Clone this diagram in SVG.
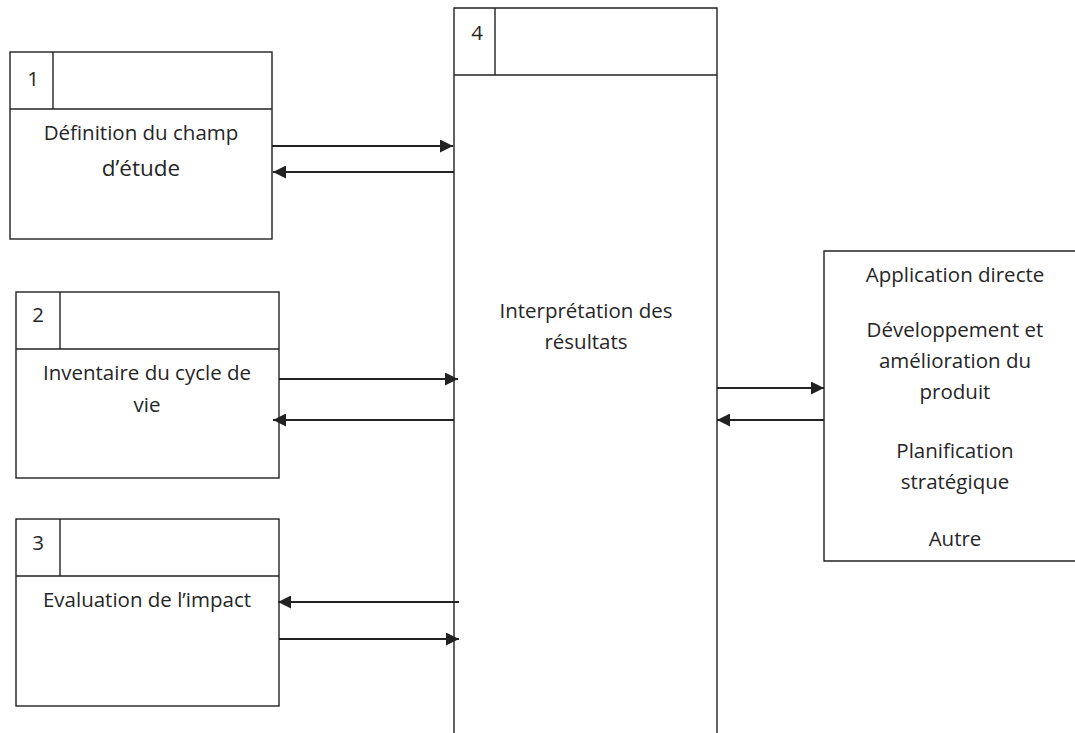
<svg xmlns="http://www.w3.org/2000/svg" width="1075" height="733" viewBox="0 0 1075 733">
<style>
  .box { fill: none; stroke: #222; stroke-width: 1.4; }
  .t { font-family: "Open Sans", "Liberation Sans", sans-serif; font-size: 20.5px; fill: #262626; text-anchor: middle; }
  .arr { stroke: #222; stroke-width: 2; fill: none; marker-end: url(#ah); }
</style>
<defs>
  <marker id="ah" markerUnits="userSpaceOnUse" markerWidth="13" markerHeight="13" refX="13" refY="6.5" orient="auto">
    <path d="M0,0 L13,6.5 L0,13 z" fill="#222"/>
  </marker>
</defs>
<rect width="1075" height="733" fill="#fff"/>

<g id="node1">
  <rect class="box" x="10" y="52" width="262" height="187"/>
  <line class="box" x1="10" y1="109" x2="272" y2="109"/>
  <line class="box" x1="53" y1="52" x2="53" y2="109"/>
  <text class="t" x="33" y="86">1</text>
  <text class="t" x="141" y="140">Définition du champ</text>
  <text class="t" x="141" y="176" style="font-size:22.5px">d’étude</text>
</g>

<g id="node2">
  <rect class="box" x="16" y="292" width="263" height="186"/>
  <line class="box" x1="16" y1="349" x2="279" y2="349"/>
  <line class="box" x1="60" y1="292" x2="60" y2="349"/>
  <text class="t" x="38" y="322">2</text>
  <text class="t" x="147" y="380">Inventaire du cycle de</text>
  <text class="t" x="147" y="412">vie</text>
</g>

<g id="node3">
  <rect class="box" x="16" y="519" width="263" height="187"/>
  <line class="box" x1="16" y1="576" x2="279" y2="576"/>
  <line class="box" x1="60" y1="519" x2="60" y2="576"/>
  <text class="t" x="38" y="550">3</text>
  <text class="t" x="147" y="607">Evaluation de l’impact</text>
</g>

<g id="node4">
  <path class="box" d="M454,745 V8 H717 V745"/>
  <line class="box" x1="454" y1="75" x2="717" y2="75"/>
  <line class="box" x1="495" y1="8" x2="495" y2="75"/>
  <text class="t" x="477" y="40">4</text>
  <text class="t" x="586" y="318">Interprétation des</text>
  <text class="t" x="586" y="349">résultats</text>
</g>

<g id="node5">
  <path class="box" d="M1085,251 H824 V561 H1085"/>
  <text class="t" x="955" y="282">Application directe</text>
  <text class="t" x="955" y="337">Développement et</text>
  <text class="t" x="955" y="368">amélioration du</text>
  <text class="t" x="955" y="399">produit</text>
  <text class="t" x="955" y="458">Planification</text>
  <text class="t" x="955" y="489">stratégique</text>
  <text class="t" x="955" y="546">Autre</text>
</g>

<g id="connectors">
  <line class="arr" x1="272" y1="146" x2="453" y2="146"/>
  <line class="arr" x1="454" y1="172" x2="273" y2="172"/>
  <line class="arr" x1="279" y1="379" x2="458" y2="379"/>
  <line class="arr" x1="454" y1="420" x2="273" y2="420"/>
  <line class="arr" x1="459" y1="602" x2="278" y2="602"/>
  <line class="arr" x1="279" y1="639" x2="459" y2="639"/>
  <line class="arr" x1="717" y1="388" x2="824" y2="388"/>
  <line class="arr" x1="824" y1="420" x2="717" y2="420"/>
</g>
</svg>
